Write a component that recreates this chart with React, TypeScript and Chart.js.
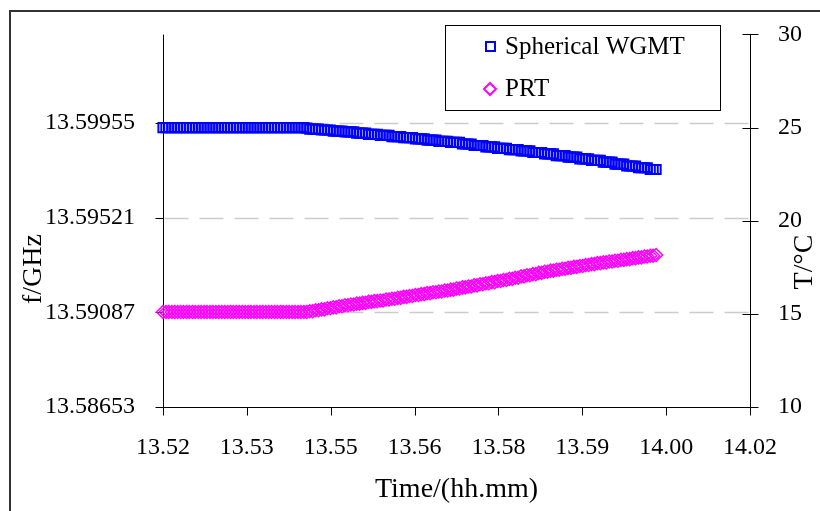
import React, { useEffect, useRef } from 'react';
import { Chart, registerables } from 'chart.js';

Chart.register(...registerables);

// ---------------- data ----------------
const timeTickLabels = ['13.52', '13.53', '13.55', '13.56', '13.58', '13.59', '14.00', '14.02'];
const timeAxisSpanSec = 600; // 13:52 -> 14:02
const sampleIntervalSec = 3;

const freqTicks = [13.58653, 13.59087, 13.59521, 13.59955];
const freqAxisMin = 13.58653;
const freqAxisMax = 13.6036;
const tempAxisMin = 10;
const tempAxisMax = 30;
const tempStep = 5;

const seriesLabels = ['Spherical WGMT', 'PRT'];

// Spherical WGMT resonance frequency (GHz), one sample every 3 s
const wgmtFreq = [
  13.59933, 13.59933, 13.59933, 13.59933, 13.59933, 13.59933, 13.59933,
  13.59933, 13.59933, 13.59933, 13.59933, 13.59933, 13.59933, 13.59933,
  13.59933, 13.59933, 13.59933, 13.59933, 13.59933, 13.59933, 13.59933,
  13.59933, 13.59933, 13.59933, 13.59933, 13.59933, 13.59933, 13.59933,
  13.59933, 13.59933, 13.59933, 13.59933, 13.59933, 13.59933, 13.59933,
  13.59933, 13.59933, 13.59933, 13.59933, 13.59933, 13.59933, 13.59933,
  13.59933, 13.59933, 13.59933, 13.59933, 13.59933, 13.59933, 13.59933,
  13.59931,
  13.59926, 13.59926, 13.59926, 13.59926,
  13.59922, 13.59922, 13.59922, 13.59922,
  13.59917, 13.59917, 13.59917, 13.59917,
  13.59913, 13.59913, 13.59913, 13.59913,
  13.59908, 13.59908, 13.59908, 13.59908,
  13.59902, 13.59902, 13.59902, 13.59902,
  13.59897, 13.59897, 13.59897, 13.59897,
  13.59892, 13.59892, 13.59892, 13.59892,
  13.59887, 13.59887, 13.59887, 13.59887,
  13.59881, 13.59881, 13.59881, 13.59881,
  13.59876, 13.59876, 13.59876, 13.59876,
  13.59870, 13.59870, 13.59870, 13.59870,
  13.59865, 13.59865, 13.59865, 13.59865,
  13.59858, 13.59858, 13.59858, 13.59858,
  13.59851, 13.59851, 13.59851, 13.59851,
  13.59845, 13.59845, 13.59845, 13.59845,
  13.59838, 13.59838, 13.59838, 13.59838,
  13.59832, 13.59832, 13.59832, 13.59832,
  13.59826, 13.59826, 13.59826, 13.59826,
  13.59819, 13.59819, 13.59819, 13.59819,
  13.59813, 13.59813, 13.59813, 13.59813,
  13.59805, 13.59805, 13.59805, 13.59805,
  13.59798, 13.59798, 13.59798, 13.59798,
  13.59790, 13.59790, 13.59790, 13.59790,
  13.59783, 13.59783, 13.59783, 13.59783,
  13.59775, 13.59775, 13.59775, 13.59775,
  13.59766, 13.59766, 13.59766, 13.59766,
  13.59757, 13.59757, 13.59757, 13.59757,
  13.59749, 13.59749, 13.59749, 13.59749,
  13.59741, 13.59741, 13.59741,
];

// PRT temperature (°C), one sample every 3 s
const prtTemp = [
  15.10, 15.10, 15.10, 15.10, 15.10, 15.10, 15.10, 15.10, 15.10, 15.10,
  15.10, 15.10, 15.10, 15.10, 15.10, 15.10, 15.10, 15.10, 15.10, 15.10,
  15.10, 15.10, 15.10, 15.10, 15.10, 15.10, 15.10, 15.10, 15.10, 15.10,
  15.10, 15.10, 15.10, 15.10, 15.10, 15.10, 15.10, 15.10, 15.10, 15.10,
  15.10, 15.10, 15.10, 15.10, 15.10, 15.10, 15.10, 15.10, 15.10, 15.10,
  15.14, 15.14, 15.19, 15.19, 15.24, 15.24, 15.30, 15.30, 15.35, 15.35,
  15.41, 15.41, 15.46, 15.46, 15.50, 15.50, 15.55, 15.55, 15.59, 15.59,
  15.64, 15.64, 15.68, 15.68, 15.72, 15.72, 15.77, 15.77, 15.81, 15.81,
  15.86, 15.86, 15.91, 15.91, 15.96, 15.96, 16.01, 16.01, 16.06, 16.06,
  16.11, 16.11, 16.16, 16.16, 16.20, 16.20, 16.25, 16.25, 16.30, 16.30,
  16.36, 16.36, 16.42, 16.42, 16.47, 16.47, 16.53, 16.53, 16.59, 16.59,
  16.64, 16.64, 16.70, 16.70, 16.76, 16.76, 16.82, 16.82, 16.88, 16.88,
  16.94, 16.94, 17.01, 17.01, 17.07, 17.07, 17.13, 17.13, 17.20, 17.20,
  17.26, 17.26, 17.32, 17.32, 17.37, 17.37, 17.42, 17.42, 17.47, 17.47,
  17.52, 17.52, 17.57, 17.57, 17.62, 17.62, 17.67, 17.67, 17.72, 17.72,
  17.76, 17.76, 17.81, 17.81, 17.85, 17.85, 17.90, 17.90, 17.94, 17.94,
  17.99, 17.99, 18.03, 18.03, 18.08, 18.08, 18.12, 18.12,
  18.16,
];

// ---------------- styling ----------------
const FONT = "'Liberation Serif', 'Times New Roman', serif";
const BLUE = '#0000ff';
const MAGENTA = '#ff00ff';

const decorPlugin = {
  id: 'decor',
  beforeDraw(chart: any) {
    const { ctx, width, height } = chart;
    ctx.save();
    ctx.fillStyle = '#ffffff';
    ctx.fillRect(0, 0, width, height);
    ctx.strokeStyle = '#333333';
    ctx.lineWidth = 2;
    ctx.strokeRect(10, 11, width + 10, height + 10);
    ctx.restore();
  },
  beforeDatasetsDraw(chart: any) {
    const { ctx, chartArea, scales } = chart;
    const yF = scales.yF;
    const yT = scales.yT;
    const x = scales.x;
    const L = Math.round(chartArea.left) + 0.5;
    const R = Math.round(chartArea.right) + 0.5;
    const B = Math.round(chartArea.bottom) + 0.5;
    const T = Math.round(chartArea.top) + 0.5;
    ctx.save();
    // dashed gridlines at frequency ticks (except the bottom one)
    ctx.strokeStyle = '#cccccc';
    ctx.lineWidth = 1.5;
    ctx.setLineDash([24, 11]);
    yF.ticks.forEach((t: any) => {
      if (t.value <= yF.min + 1e-9) return;
      const py = Math.round(yF.getPixelForValue(t.value)) + 0.5;
      ctx.beginPath();
      ctx.moveTo(L + 1, py);
      ctx.lineTo(R - 1, py);
      ctx.stroke();
    });
    ctx.setLineDash([]);
    // axis lines
    ctx.strokeStyle = '#000000';
    ctx.lineWidth = 1;
    ctx.beginPath();
    ctx.moveTo(L, T);
    ctx.lineTo(L, B);
    ctx.lineTo(R, B);
    ctx.moveTo(R, Math.round(yT.getPixelForValue(yT.max)) + 0.5);
    ctx.lineTo(R, B);
    // left ticks
    yF.ticks.forEach((t: any) => {
      const py = Math.round(yF.getPixelForValue(t.value)) + 0.5;
      ctx.moveTo(L - 8, py);
      ctx.lineTo(L, py);
    });
    // right ticks (crossing)
    yT.ticks.forEach((t: any) => {
      const py = Math.round(yT.getPixelForValue(t.value)) + 0.5;
      ctx.moveTo(R - 8, py);
      ctx.lineTo(R + 8, py);
    });
    // bottom ticks
    x.ticks.forEach((t: any) => {
      const px = Math.round(x.getPixelForValue(t.value)) + 0.5;
      ctx.moveTo(px, B);
      ctx.lineTo(px, B + 8);
    });
    ctx.stroke();
    ctx.restore();
  },
  afterDraw(chart: any) {
    const { ctx, chartArea } = chart;
    ctx.save();
    ctx.fillStyle = '#000000';
    ctx.textAlign = 'center';
    ctx.textBaseline = 'middle';
    // axis titles
    ctx.font = `28px ${FONT}`;
    ctx.fillText('Time/(hh.mm)', (chartArea.left + chartArea.right) / 2, 490);
    ctx.save();
    ctx.translate(34, 269);
    ctx.rotate(-Math.PI / 2);
    ctx.fillText('f/GHz', 0, 0);
    ctx.restore();
    ctx.save();
    ctx.translate(805, 262);
    ctx.rotate(-Math.PI / 2);
    ctx.fillText('T/°C', 0, 0);
    ctx.restore();

    // legend
    const ds = chart.data.datasets;
    ctx.fillStyle = '#ffffff';
    ctx.fillRect(445.5, 25.5, 275, 85);
    ctx.strokeStyle = '#000000';
    ctx.lineWidth = 1;
    ctx.strokeRect(445.5, 25.5, 275, 85);
    ctx.font = `25px ${FONT}`;
    ctx.textAlign = 'left';
    // square
    ctx.strokeStyle = ds[0].borderColor;
    ctx.lineWidth = 2;
    ctx.strokeRect(486, 42, 9, 9);
    ctx.fillStyle = '#000000';
    ctx.fillText(ds[0].label, 505, 47);
    // diamond
    ctx.strokeStyle = ds[1].borderColor;
    ctx.beginPath();
    ctx.moveTo(490, 83);
    ctx.lineTo(496, 89);
    ctx.lineTo(490, 95);
    ctx.lineTo(484, 89);
    ctx.closePath();
    ctx.stroke();
    ctx.fillText(ds[1].label, 505, 89);
    ctx.restore();
  },
};

export default function App() {
  const canvasRef = useRef<HTMLCanvasElement | null>(null);

  useEffect(() => {
    const canvas = canvasRef.current;
    if (!canvas) return;

    const wgmtPoints = wgmtFreq.map((f, i) => ({ x: i * sampleIntervalSec, y: f }));
    const prtPoints = prtTemp.map((t, i) => ({ x: i * sampleIntervalSec, y: t }));
    const nX = timeTickLabels.length - 1;

    const chart = new Chart(canvas, {
      type: 'scatter',
      data: {
        datasets: [
          {
            label: seriesLabels[0],
            data: wgmtPoints,
            yAxisID: 'yF',
            pointStyle: 'rect',
            pointRadius: 6.5,
            borderColor: BLUE,
            pointBorderColor: BLUE,
            backgroundColor: 'rgba(0,0,0,0)',
            pointBackgroundColor: 'rgba(0,0,0,0)',
            pointBorderWidth: 2,
            showLine: false,
            clip: false as any,
          },
          {
            label: seriesLabels[1],
            data: prtPoints,
            yAxisID: 'yT',
            pointStyle: 'rectRot',
            pointRadius: 6.5,
            borderColor: MAGENTA,
            pointBorderColor: MAGENTA,
            backgroundColor: 'rgba(0,0,0,0)',
            pointBackgroundColor: 'rgba(0,0,0,0)',
            pointBorderWidth: 1.5,
            showLine: false,
            clip: false as any,
          },
        ],
      },
      options: {
        responsive: false,
        animation: false,
        events: [],
        layout: { padding: { top: 32, left: 0, right: 0, bottom: 0 } },
        plugins: {
          legend: { display: false },
          tooltip: { enabled: false },
          title: { display: false },
        },
        scales: {
          x: {
            type: 'linear',
            position: 'bottom',
            min: 0,
            max: timeAxisSpanSec,
            grid: { display: false },
            border: { display: false },
            afterBuildTicks: (scale: any) => {
              scale.ticks = timeTickLabels.map((_, i) => ({ value: (i * timeAxisSpanSec) / nX }));
            },
            ticks: {
              autoSkip: false,
              maxRotation: 0,
              padding: 18,
              color: '#000',
              font: { family: FONT, size: 24 },
              callback: (_v: any, i: number) => timeTickLabels[i],
            },
            afterFit: (scale: any) => {
              scale.height = 104;
            },
          },
          yF: {
            type: 'linear',
            position: 'left',
            min: freqAxisMin,
            max: freqAxisMax,
            grid: { display: false },
            border: { display: false },
            afterBuildTicks: (scale: any) => {
              scale.ticks = freqTicks.map((v) => ({ value: v }));
            },
            ticks: {
              autoSkip: false,
              padding: 20,
              color: '#000',
              font: { family: FONT, size: 24 },
              callback: (v: any) => Number(v).toFixed(5),
            },
            afterFit: (scale: any) => {
              scale.width = 163;
            },
          },
          yT: {
            type: 'linear',
            position: 'right',
            min: tempAxisMin,
            max: tempAxisMax,
            grid: { display: false },
            border: { display: false },
            ticks: {
              stepSize: tempStep,
              autoSkip: false,
              padding: 20,
              color: '#000',
              font: { family: FONT, size: 24 },
              callback: (v: any) => String(v),
            },
            afterFit: (scale: any) => {
              scale.width = 70;
            },
          },
        },
      },
      plugins: [decorPlugin],
    });

    return () => chart.destroy();
  }, []);

  return (
    <div style={{ position: 'absolute', left: 0, top: 0, width: 820, height: 511 }}>
      <canvas ref={canvasRef} width={820} height={511} style={{ display: 'block' }} />
    </div>
  );
}
